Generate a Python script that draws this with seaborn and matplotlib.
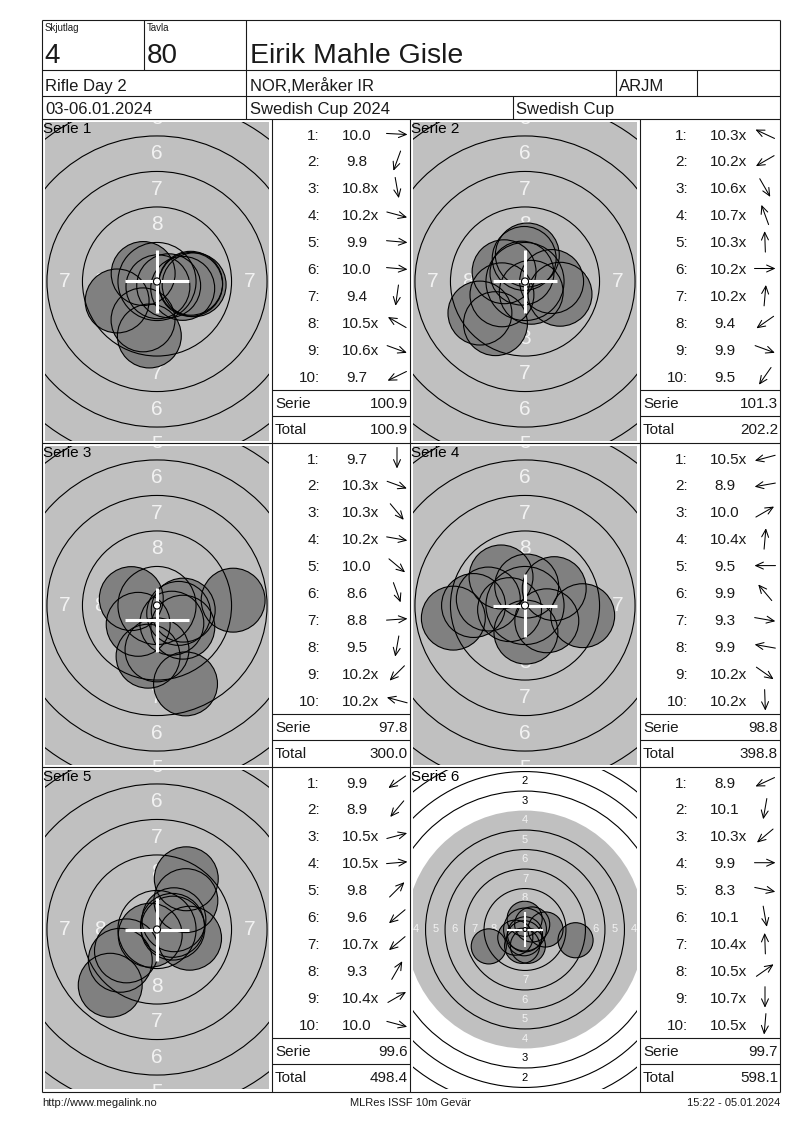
import numpy as np
import pandas as pd
import seaborn as sns
import matplotlib.pyplot as plt
from matplotlib.patches import Circle

sns.set_theme(style='white')
plt.rcParams['font.family'] = ['Liberation Sans', 'DejaVu Sans']

# header texts
relay_label, lane_label = 'Skjutlag', 'Tavla'
relay, lane = '4', '80'
shooter = 'Eirik Mahle Gisle'
event = 'Rifle Day 2'
club = 'NOR,Meråker IR'
shooter_class = 'ARJM'
dates = '03-06.01.2024'
competition = 'Swedish Cup 2024'
cup = 'Swedish Cup'
footer = ['http://www.megalink.no', 'MLRes ISSF 10m Gevär', '15:22 - 05.01.2024']

# shots: score as printed, direction of the hit in degrees (0 = right, 90 = up)
s1_scores = ['10.0', '9.8', '10.8x', '10.2x', '9.9', '10.0', '9.4', '10.5x', '10.6x', '9.7']
s1_dirs = [-3, 250, -80, -15, -5, -5, -98, 150, -20, 206]
s2_scores = ['10.3x', '10.2x', '10.6x', '10.7x', '10.3x', '10.2x', '10.2x', '9.4', '9.9', '9.5']
s2_dirs = [155, 210, -60, 110, 92, 0, 85, 215, -20, 235]
s3_scores = ['9.7', '10.3x', '10.3x', '10.2x', '10.0', '8.6', '8.8', '9.5', '10.2x', '10.2x']
s3_dirs = [-90, -20, -50, -10, -40, -70, 4, -100, 225, 165]
s4_scores = ['10.5x', '8.9', '10.0', '10.4x', '9.5', '9.9', '9.3', '9.9', '10.2x', '10.2x']
s4_dirs = [195, 190, 30, 85, 180, 130, -10, 170, -35, -88]
s5_scores = ['9.9', '8.9', '10.5x', '10.5x', '9.8', '9.6', '10.7x', '9.3', '10.4x', '10.0']
s5_dirs = [215, 230, 15, 5, 45, 220, 220, 60, 30, -15]
s6_scores = ['8.9', '10.1', '10.3x', '9.9', '8.3', '10.1', '10.4x', '10.5x', '10.7x', '10.5x']
s6_dirs = [205, -100, 220, 0, -12, -80, 92, 35, -90, -95]

serie_sums = [100.9, 101.3, 97.8, 98.8, 99.6, 99.7]
totals = [100.9, 202.2, 300.0, 398.8, 498.4, 598.1]
cross_dy = [0, 0, -1.0, 0, 0, 0]          # mm, offset of the white cross
zoom_scale = [14.2, 14.2, 14.2, 14.2, 14.2, 7.8]   # px per mm
ring_font = [15, 15, 15, 15, 15, 8]

all_scores = [s1_scores, s2_scores, s3_scores, s4_scores, s5_scores, s6_scores]
all_dirs = [s1_dirs, s2_dirs, s3_dirs, s4_dirs, s5_dirs, s6_dirs]

# ISSF 10m air rifle target, ring radii in mm (ring 1 .. ring 10)
ring_r = [22.75 - 2.5 * k for k in range(10)]

W, H = 800, 1130
fig = plt.figure(figsize=(W / 100, H / 100), dpi=100)
bg = fig.add_axes([0, 0, 1, 1])
bg.set_xlim(0, W)
bg.set_ylim(H, 0)
bg.axis('off')


def line(x0, y0, x1, y1):
    bg.plot([x0, x1], [y0, y1], color='k', lw=0.8, solid_capstyle='butt')


def txt(x, y, s, size, **kw):
    bg.text(x, y, s, fontsize=size, va='baseline', color='k', **kw)


# frame and header grid
L, R, T, B = 42, 780, 20, 1092
for y in [T, 70, 96, 119, 443, 767, B]:
    line(L, y, R, y)
line(L, T, L, B)
line(R, T, R, B)
line(144, T, 144, 70)
line(246, T, 246, 119)
line(616, 70, 616, 96)
line(697, 70, 697, 96)
line(513, 96, 513, 119)
for x in [272, 410, 640]:
    line(x, 119, x, B)

txt(45, 31, relay_label, 7)
txt(147, 31, lane_label, 7)
txt(44, 63, relay, 20)
txt(147, 63, lane, 20)
txt(250, 63, shooter, 20.5)
txt(45, 91, event, 12)
txt(250, 91, club, 12)
txt(619, 91, shooter_class, 12)
txt(45, 114, dates, 12)
txt(250, 114, competition, 12)
txt(516, 114, cup, 12)

txt(42, 1106, footer[0], 8, ha='left')
txt(410, 1106, footer[1], 8, ha='center')
txt(780, 1106, footer[2], 8, ha='right')


def draw_target(px, py, k):
    scale = zoom_scale[k]
    l, t, w, h = px + 3, py + 3, 224, 319
    ax = fig.add_axes([l / W, 1 - (t + h) / H, w / W, h / H])
    ax.add_patch(Circle((0, 0), ring_r[3], color='#c0c0c0', lw=0, zorder=1))
    for n in range(1, 9):
        r = ring_r[n - 1] - 1.25
        col = '#f2f2f2' if n >= 4 else 'black'
        for x, y in [(0, r), (0, -r), (r, 0), (-r, 0)]:
            ax.text(x, y, str(n), ha='center', va='center', fontsize=ring_font[k],
                    color=col, zorder=2, clip_on=True)
    vals = np.array([float(s.rstrip('x')) for s in all_scores[k]])
    ang = np.radians(all_dirs[k])
    d = (10.95 - vals) * 2.5
    shots = pd.DataFrame({'x': d * np.cos(ang), 'y': d * np.sin(ang)})
    size = (4.5 * scale * 0.72) ** 2
    sns.scatterplot(data=shots, x='x', y='y', s=size, color='#808080',
                    edgecolor='none', linewidth=0, ax=ax, zorder=3, legend=False)
    # ring 4 is only the edge of the grey area, no line
    for n, r in enumerate(ring_r[:9], start=1):
        if n == 4:
            continue
        ax.add_patch(Circle((0, 0), r, fill=False, ec='black', lw=0.8, zorder=4))
    ax.scatter(shots['x'], shots['y'], s=size, facecolors='none', edgecolors='black',
               linewidths=0.8, zorder=5)
    cw = 2.2 if scale > 10 else 1.5
    cy = cross_dy[k]
    ax.plot([-2.25, 2.25], [cy, cy], color='white', lw=cw, zorder=6, solid_capstyle='butt')
    ax.plot([0, 0], [cy - 2.25, cy + 2.25], color='white', lw=cw, zorder=6, solid_capstyle='butt')
    ax.add_patch(Circle((0, 0), ring_r[9], fc='white', ec='black', lw=0.8, zorder=7))
    ax.set_xlim(-w / 2 / scale, w / 2 / scale)
    ax.set_ylim(-h / 2 / scale, h / 2 / scale)
    ax.axis('off')
    fig.text((px + 1) / W, 1 - (py + 14) / H, f'Serie {k + 1}', fontsize=11,
             va='baseline', ha='left', color='black')


def draw_table(px, py, k, right):
    for i, (sc, a) in enumerate(zip(all_scores[k], all_dirs[k])):
        yc = py + 15 + 26.9 * i
        yb = yc + 5.5
        txt(px + 278, yb, f'{i + 1}:', 11, ha='right')
        if len(sc.rstrip('x')) >= 4:
            txt(px + 300, yb, sc, 11, ha='left')
        else:
            txt(px + 315, yb, sc, 11, ha='center')
        cx = px + 355
        ar = np.radians(a)
        dx, dy = 10.5 * np.cos(ar), -10.5 * np.sin(ar)
        bg.annotate('', xy=(cx + dx, yc + dy), xytext=(cx - dx, yc - dy),
                    arrowprops=dict(arrowstyle='->,head_length=0.55,head_width=0.25',
                                    lw=0.75, color='black', shrinkA=0, shrinkB=0,
                                    mutation_scale=10))
    line(px + 230, py + 271, right, py + 271)
    line(px + 230, py + 297, right, py + 297)
    txt(px + 233, py + 289.5, 'Serie', 11, ha='left')
    txt(right - 2, py + 289.5, f'{serie_sums[k]:.1f}', 11, ha='right')
    txt(px + 233, py + 315.5, 'Total', 11, ha='left')
    txt(right - 2, py + 315.5, f'{totals[k]:.1f}', 11, ha='right')


cols = [42, 410]
rows = [119, 443, 767]
rights = [410, 780]
for k in range(6):
    px, py = cols[k % 2], rows[k // 2]
    draw_target(px, py, k)
    draw_table(px, py, k, rights[k % 2])

fig.savefig('out.png', dpi=100, facecolor='white')
